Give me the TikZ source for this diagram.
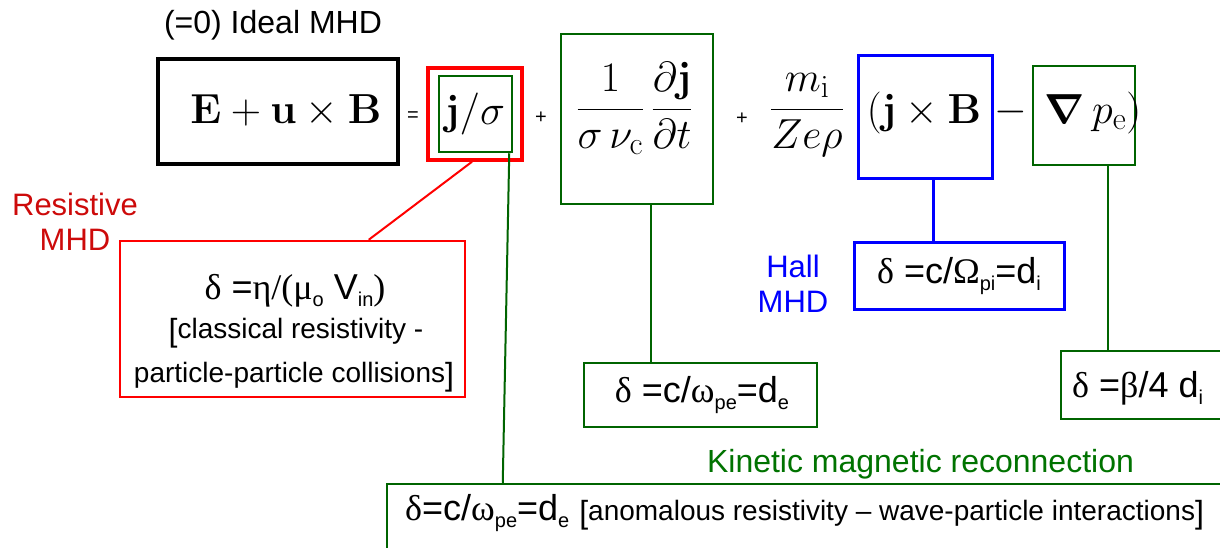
\documentclass[tikz,border=0pt]{standalone}
\usepackage{fix-cm}
\usepackage[no-math]{fontspec}
\usepackage{amsmath}
\DeclareMathSizes{42}{42}{32}{24}
\newfontfamily\ars{Liberation Sans}
\newfontfamily\tms{Liberation Serif}
\usetikzlibrary{calc}
\definecolor{bred}{RGB}{255,0,0}
\definecolor{tred}{RGB}{205,10,10}
\definecolor{dgreen}{RGB}{0,100,0}
\definecolor{tgreen}{RGB}{0,115,0}
\definecolor{bblue}{RGB}{0,0,255}
\newcommand{\gk}[1]{{\tms #1}}
\newcommand{\lo}[1]{\raisebox{-7pt}{\fontsize{20}{20}\selectfont #1}}
\newcommand{\bigbr}[1]{\raisebox{-3pt}{\fontsize{32}{32}\selectfont #1}}
\tikzset{
  box/.style={draw, rectangle, inner sep=0pt},
  eq/.style={inner sep=0pt, anchor=base, font=\fontsize{42}{50}\selectfont},
  lab/.style={inner sep=0pt, align=center, font=\ars\fontsize{31}{35}\selectfont},
  formula/.style={inner sep=0pt, font=\ars\fontsize{36}{40}\selectfont},
  plain/.style={inner sep=0pt, font=\ars\fontsize{28}{32}\selectfont},
  small/.style={inner sep=0pt, font=\ars\fontsize{20}{20}\selectfont},
  redline/.style={draw=bred, line width=2pt},
  gline/.style={draw=dgreen, line width=2pt},
  bline/.style={draw=bblue, line width=3pt}
}
\begin{document}
\begin{tikzpicture}[x=1pt,y=-1pt]
\useasboundingbox (0,0) rectangle (1220,547);
\clip (0,0) rectangle (1220,547);
\fill[white] (0,0) rectangle (1220,547);

% title
\node[inner sep=0pt, anchor=base, font=\ars\fontsize{32}{36}\selectfont] (ideal) at (273,33) {(=0) Ideal MHD};

% equation boxes
\node[box, line width=3.5pt, minimum width=240pt, minimum height=105pt] (lhs) at (278,111.5) {};
\node[box, draw=bred, line width=3.5pt, minimum width=94pt, minimum height=92pt] (red) at (475,114) {};
\node[box, draw=dgreen, line width=2.5pt, minimum width=73pt, minimum height=76pt] (inner) at (475.5,114) {};
\node[box, draw=dgreen, line width=2.5pt, minimum width=152pt, minimum height=170pt] (box2) at (637,119) {};
\node[box, draw=bblue, line width=3pt, minimum width=134pt, minimum height=123pt] (blue) at (925,116.5) {};
\node[box, draw=dgreen, line width=2.5pt, minimum width=102pt, minimum height=99pt] (g4) at (1084,115.5) {};

% equation text
\node[eq] (lhsT) at (286,123) {$\mathbf{E}+\mathbf{u}\times\mathbf{B}$};
\node[small] (eqs) at (413,117) {=};
\node[eq] (jT) at (475,124) {$\mathbf{j}/\sigma$};
\node[small] (plus1) at (541,118) {+};
\node[eq] (frac1) at (634.5,119.5) {$\dfrac{1}{\sigma\,\nu_{\mathrm{c}}}\,\dfrac{\partial\mathbf{j}}{\partial t}$};
\node[small] (plus2) at (742,119) {+};
\node[eq] (frac2) at (807,119.5) {$\dfrac{m_{\mathrm{i}}}{Ze\rho}$};
\node[eq] (jxB) at (924,123) {$(\mathbf{j}\times\mathbf{B}$};
\node[eq] (minus) at (1011,122) {$-$};
\node[eq] (nab) at (1093,123) {$\boldsymbol{\nabla}\,p_{\mathrm{e}})$};

% lower boxes
\node[box, draw=bred, line width=2.5pt, minimum width=345pt, minimum height=156pt] (res) at (292.5,319) {};
\node[box, draw=bblue, line width=3pt, minimum width=210pt, minimum height=67pt] (hallbox) at (959,275.5) {};
\node[box, draw=dgreen, line width=2.5pt, minimum width=233pt, minimum height=64pt] (de) at (700.5,395) {};
\node[box, draw=dgreen, line width=2.5pt, minimum width=189pt, minimum height=68pt] (beta) at (1155.5,385) {};
\node[box, draw=dgreen, line width=2.5pt, minimum width=863pt, minimum height=116pt] (kin) at (818.5,542) {};

% labels
\node[lab, text=tred] (resL) at (75,221.5) {Resistive\\MHD};
\node[lab, text=bblue] (hallL) at (793,283.5) {Hall\\MHD};
\node[inner sep=0pt, anchor=base, text=tgreen, font=\ars\fontsize{32}{36}\selectfont] (kinL) at (920.5,472) {Kinetic magnetic reconnection};

% lower texts
\node[formula, anchor=base] (resA) at (295,299) {\gk{δ} =\gk{η/(μ}\lo{o} V\lo{in}\gk{)}};
\node[plain, anchor=base] (resB) at (296,338) {\bigbr{[}classical resistivity -};
\node[plain, anchor=base] (resC) at (294,382) {particle-particle collisions\bigbr{]}};
\node[formula, anchor=base] (hallT) at (959,283) {\gk{δ} =c/\gk{Ω}\lo{pi}=d\lo{i}};
\node[formula, anchor=base] (deT) at (702,402) {\gk{δ} =c/\gk{ω}\lo{pe}=d\lo{e}};
\node[formula, anchor=base west] (betaT) at (1072,397) {\gk{δ} =\gk{β}/4 d\lo{i}};
\node[formula, anchor=base west] (kinT) at (405,520) {\gk{δ}=c/\gk{ω}\lo{pe}=d\lo{e} {\fontsize{28}{32}\selectfont\bigbr{[}anomalous resistivity – wave-particle interactions\bigbr{]}}};

% connectors
\draw[redline] ([xshift=-3pt]red.south) -- ([xshift=250pt]res.north west);
\draw[gline] ([xshift=-4pt]inner.south east) -- ([xshift=117pt]kin.north west);
\draw[gline] ([xshift=14pt]box2.south) -- ([xshift=14pt]box2.south |- de.north);
\draw[bline] ([xshift=8pt]blue.south) -- ([xshift=8pt]blue.south |- hallbox.north);
\draw[gline] ([xshift=24pt]g4.south) -- ([xshift=24pt]g4.south |- beta.north);
\end{tikzpicture}
\end{document}
